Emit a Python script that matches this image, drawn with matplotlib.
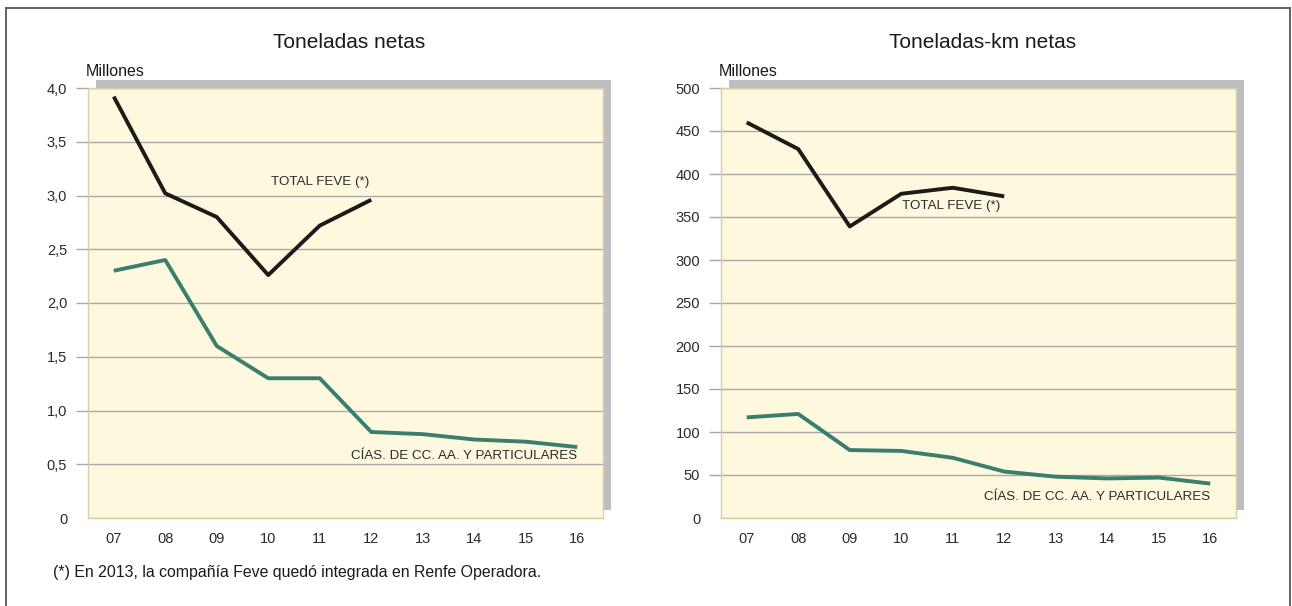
import matplotlib.pyplot as plt
from matplotlib.patches import Rectangle
from matplotlib.ticker import FuncFormatter

# data
years = ['07', '08', '09', '10', '11', '12', '13', '14', '15', '16']
feve_t = [3.92, 3.02, 2.80, 2.26, 2.72, 2.96]
cias_t = [2.30, 2.40, 1.60, 1.30, 1.30, 0.80, 0.78, 0.73, 0.71, 0.66]
feve_tkm = [460, 429, 339, 377, 384, 374]
cias_tkm = [117, 121, 79, 78, 70, 54, 48, 46, 47, 40]

yticks_t = [0, 0.5, 1.0, 1.5, 2.0, 2.5, 3.0, 3.5, 4.0]
yticks_tkm = [0, 50, 100, 150, 200, 250, 300, 350, 400, 450, 500]

BG = '#FEF9DE'
GRID = '#A9A9A9'
SHADOW = '#BDBEC1'
BLACK = '#1E1A18'
TEAL = '#3A7E6D'
TXT = '#2B2B2B'
plt.rcParams['font.family'] = ['Liberation Sans', 'DejaVu Sans']

W, H = 1292, 606
fig = plt.figure(figsize=(W / 100, H / 100), dpi=100)

# outer frame (left, top, right edges)
fig.add_artist(plt.Line2D([6 / W, 6 / W], [0, 1 - 8 / H], color='#555555', lw=1.3, transform=fig.transFigure))
fig.add_artist(plt.Line2D([6 / W, 1290 / W], [1 - 8 / H, 1 - 8 / H], color='#555555', lw=1.3, transform=fig.transFigure))
fig.add_artist(plt.Line2D([1290 / W, 1290 / W], [0, 1 - 8 / H], color='#555555', lw=1.3, transform=fig.transFigure))


def panel(x0, title, feve, cias, yticks, fmt, feve_lab, cias_lab):
    left, bottom, width, height = x0 / W, 1 - 518 / H, 515 / W, 430 / H
    # grey shadow behind the plot area
    fig.add_artist(Rectangle((left + 8 / W, bottom + 8 / H), width, height,
                             transform=fig.transFigure, facecolor=SHADOW,
                             edgecolor='none', zorder=-1))
    ax = fig.add_axes([left, bottom, width, height])
    ax.set_facecolor(BG)
    for s in ax.spines.values():
        s.set_color('#D6D0A8')
        s.set_linewidth(1.0)
    x = range(len(years))
    ax.plot(range(len(feve)), feve, color=BLACK, lw=2.8, solid_capstyle='butt', zorder=3)
    ax.plot(x, cias, color=TEAL, lw=2.8, solid_capstyle='butt', zorder=3)
    ax.set_xlim(-0.5, 9.5)
    ax.set_ylim(yticks[0], yticks[-1])
    ax.set_xticks(list(x))
    ax.set_xticklabels(years)
    ax.set_yticks(yticks)
    ax.yaxis.set_major_formatter(FuncFormatter(fmt))
    ax.grid(axis='y', color=GRID, lw=1.0, zorder=1)
    ax.set_axisbelow(True)
    ax.tick_params(axis='y', length=9, color=GRID, width=1.0, pad=6, labelcolor=TXT, labelsize=10.5)
    ax.tick_params(axis='x', length=0, pad=10, labelcolor=TXT, labelsize=10.5)
    ax.yaxis.get_major_ticks()[0].tick1line.set_visible(False)
    fig.text(left + width / 2 + 4 / W, 1 - 43 / H, title, ha='center', va='center', fontsize=15, color='#1A1A1A')
    fig.text(left - 2 / W, 1 - 71 / H, 'Millones', ha='left', va='center', fontsize=11.5, color='#1A1A1A')
    ax.text(feve_lab[0], feve_lab[1], 'TOTAL FEVE (*)', ha='left', va='center',
            fontsize=9.6, color=TXT, zorder=4)
    ax.text(9, cias_lab, 'CÍAS. DE CC. AA. Y PARTICULARES', ha='right', va='center',
            fontsize=9.6, color=TXT, zorder=4)
    return ax


panel(88, 'Toneladas netas', feve_t, cias_t, yticks_t,
      lambda v, p: '0' if v == 0 else f'{v:.1f}'.replace('.', ','),
      (3.05, 3.13), 0.58)
panel(721, 'Toneladas-km netas', feve_tkm, cias_tkm, yticks_tkm,
      lambda v, p: f'{v:.0f}', (3.02, 363), 24)

fig.text(53 / W, 1 - 573 / H, '(*) En 2013, la compañía Feve quedó integrada en Renfe Operadora.',
         ha='left', va='center', fontsize=11.4, color='#1A1A1A')

fig.savefig('out.png', dpi=100, facecolor='white')
